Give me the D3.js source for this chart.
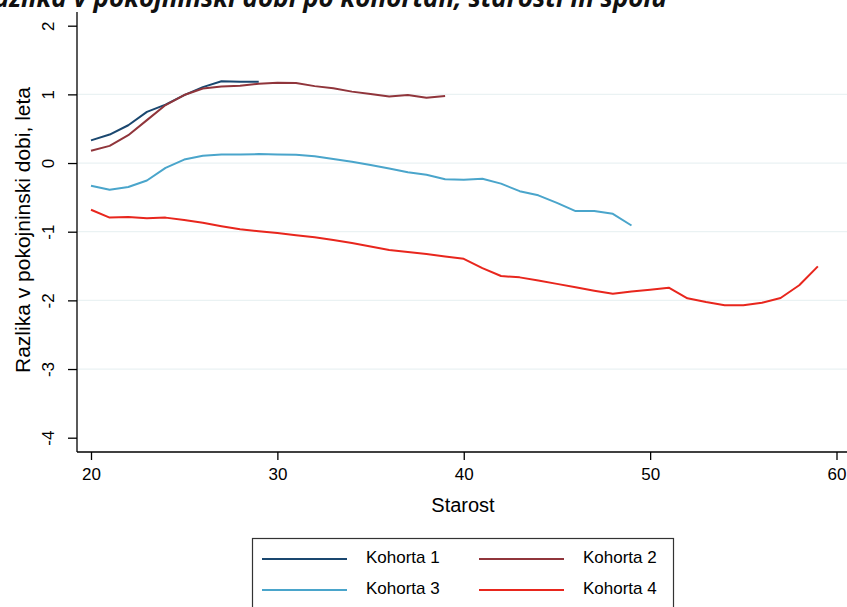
<!DOCTYPE html>
<html>
<head>
<meta charset="utf-8">
<script src="https://cdn.jsdelivr.net/npm/d3@7"></script>
<style>
  html, body { margin: 0; padding: 0; background: #fff; }
  svg { display: block; }
</style>
</head>
<body>
<svg id="chart" width="847" height="607"></svg>
<script>
// Ages per cohort and the difference in pensionable service (years)
const ages1 = d3.range(20, 30);
const kohorta1 = [0.33, 0.415, 0.55, 0.745, 0.85, 0.99, 1.105, 1.19, 1.185, 1.185];

const ages2 = d3.range(20, 40);
const kohorta2 = [0.18, 0.25, 0.405, 0.625, 0.845, 0.99, 1.085, 1.115, 1.125, 1.155,
                  1.17, 1.165, 1.12, 1.09, 1.04, 1.005, 0.97, 0.99, 0.95, 0.975];

const ages3 = d3.range(20, 50);
const kohorta3 = [-0.33, -0.39, -0.35, -0.255, -0.07, 0.05, 0.105, 0.125, 0.125, 0.13,
                  0.125, 0.12, 0.10, 0.06, 0.02, -0.03, -0.08, -0.135, -0.17, -0.235,
                  -0.245, -0.23, -0.30, -0.41, -0.47, -0.58, -0.70, -0.70, -0.74, -0.91];

const ages4 = d3.range(20, 60);
const kohorta4 = [-0.68, -0.795, -0.785, -0.805, -0.795, -0.83, -0.87, -0.92, -0.965, -0.995,
                  -1.02, -1.05, -1.08, -1.12, -1.165, -1.215, -1.265, -1.295, -1.325, -1.36,
                  -1.395, -1.53, -1.645, -1.665, -1.71, -1.76, -1.81, -1.86, -1.905, -1.87,
                  -1.845, -1.815, -1.97, -2.025, -2.07, -2.07, -2.035, -1.965, -1.78, -1.505];

const seriesNames = ["Kohorta 1", "Kohorta 2", "Kohorta 3", "Kohorta 4"];
const seriesColors = ["#1a476f", "#90353b", "#4aa5cb", "#e8261d"];

const xTicks = [20, 30, 40, 50, 60];
const yTicks = [2, 1, 0, -1, -2, -3, -4];
const gridTicks = [1, 0, -1, -2, -3];

const titleText = "Razlika v pokojninski dobi po kohortah, starosti in spolu";
const xTitle = "Starost";
const yTitle = "Razlika v pokojninski dobi, leta";

const series = [
  { name: seriesNames[0], ages: ages1, values: kohorta1, color: seriesColors[0] },
  { name: seriesNames[1], ages: ages2, values: kohorta2, color: seriesColors[1] },
  { name: seriesNames[2], ages: ages3, values: kohorta3, color: seriesColors[2] },
  { name: seriesNames[3], ages: ages4, values: kohorta4, color: seriesColors[3] }
];

const svg = d3.select("#chart");
const font = "'Liberation Sans', Arial, Helvetica, sans-serif";

const x = d3.scaleLinear().domain([20, 60]).range([91, 836.5]);
const y = d3.scaleLinear().domain([-4, 2]).range([437.7, 25.7]);

const axisX0 = 77, axisY0 = 452;

// Title, set high so it runs past the top edge
svg.append("text")
  .attr("x", 667).attr("y", 7)
  .attr("text-anchor", "end")
  .attr("font-family", "'Open Sans', 'DejaVu Sans', sans-serif")
  .attr("font-weight", "bold").attr("font-style", "italic")
  .attr("font-size", 26)
  .attr("fill", "#111")
  .text(titleText);

// Horizontal grid lines
svg.append("g").selectAll("line").data(gridTicks).join("line")
  .attr("x1", axisX0 + 1).attr("x2", 847)
  .attr("y1", d => y(d)).attr("y2", d => y(d))
  .attr("stroke", "#eaf2f3").attr("stroke-width", 1.2);

// Y axis
const yAxis = d3.axisLeft(y).tickValues(yTicks).tickSize(9).tickPadding(4).tickFormat(d => String(d));
const gy = svg.append("g").attr("transform", `translate(${axisX0},0)`).call(yAxis);
gy.select(".domain").remove();
gy.append("line").attr("x1", 0).attr("x2", 0).attr("y1", 12).attr("y2", axisY0).attr("stroke", "#000").attr("stroke-width", 1.3);
gy.selectAll(".tick line").attr("stroke", "#000").attr("stroke-width", 1.3);
gy.selectAll(".tick text")
  .attr("font-family", font).attr("font-size", 17).attr("fill", "#000")
  .attr("text-anchor", "middle")
  .attr("x", null).attr("dy", null)
  .attr("transform", "translate(-27,0) rotate(-90)")
  .attr("dominant-baseline", "middle");

// X axis
const xAxis = d3.axisBottom(x).tickValues(xTicks).tickSize(8).tickPadding(8).tickFormat(d => String(d));
const gx = svg.append("g").attr("transform", `translate(0,${axisY0})`).call(xAxis);
gx.select(".domain").remove();
gx.append("line").attr("x1", axisX0).attr("x2", 847).attr("y1", 0).attr("y2", 0).attr("stroke", "#000").attr("stroke-width", 1.3);
gx.selectAll(".tick line").attr("stroke", "#000").attr("stroke-width", 1.3);
gx.selectAll(".tick text").attr("font-family", font).attr("font-size", 17).attr("fill", "#000");

// Axis titles
svg.append("text")
  .attr("x", 463).attr("y", 512)
  .attr("text-anchor", "middle")
  .attr("font-family", font).attr("font-size", 20).attr("fill", "#000")
  .text(xTitle);

svg.append("text")
  .attr("transform", "translate(30,230) rotate(-90)")
  .attr("text-anchor", "middle")
  .attr("font-family", font).attr("font-size", 21).attr("fill", "#000")
  .text(yTitle);

// Series lines
const line = d3.line().x(d => x(d[0])).y(d => y(d[1]));
svg.append("g").selectAll("path").data(series).join("path")
  .attr("d", s => line(s.ages.map((a, i) => [a, s.values[i]])))
  .attr("fill", "none")
  .attr("stroke", s => s.color)
  .attr("stroke-width", 2)
  .attr("stroke-linejoin", "round");

// Legend
const legend = svg.append("g");
legend.append("rect")
  .attr("x", 252.5).attr("y", 538.5).attr("width", 421).attr("height", 90)
  .attr("fill", "#fff").attr("stroke", "#333").attr("stroke-width", 1.2);

const legPos = [
  { lx: 262, tx: 366, y: 559 },
  { lx: 479, tx: 583, y: 559 },
  { lx: 262, tx: 366, y: 590 },
  { lx: 479, tx: 583, y: 590 }
];
series.forEach((s, i) => {
  const p = legPos[i];
  legend.append("line")
    .attr("x1", p.lx).attr("x2", p.lx + 85)
    .attr("y1", p.y).attr("y2", p.y)
    .attr("stroke", s.color).attr("stroke-width", 2);
  legend.append("text")
    .attr("x", p.tx).attr("y", p.y)
    .attr("dominant-baseline", "middle")
    .attr("font-family", font).attr("font-size", 17).attr("fill", "#000")
    .text(s.name);
});
</script>
</body>
</html>
